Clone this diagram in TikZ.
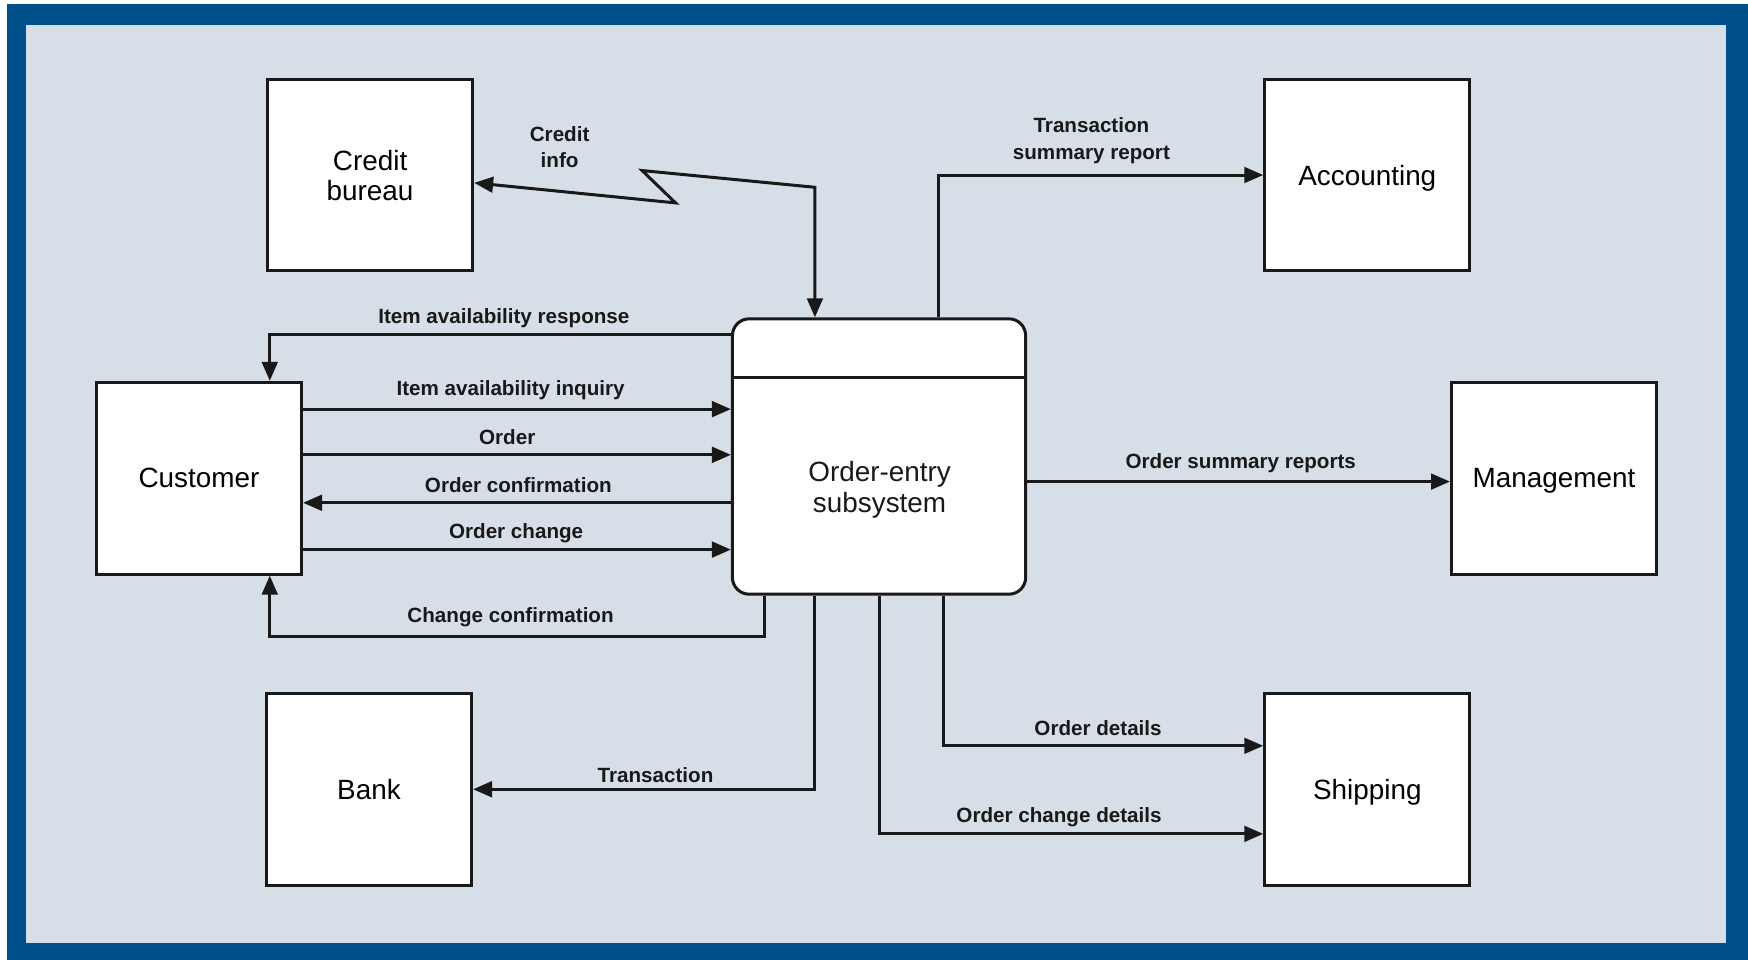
\documentclass[tikz,border=0pt]{standalone}
\usepackage{fontspec}
\setmainfont{Liberation Sans}
\usetikzlibrary{arrows.meta}
\definecolor{frameblue}{RGB}{0,80,140}
\definecolor{panel}{RGB}{214,222,232}
\definecolor{ink}{RGB}{25,25,25}

\begin{document}
\begin{tikzpicture}[x=1pt,y=-1pt,
  entity/.style={draw=ink, fill=white, line width=2.7pt, minimum width=184pt,
    minimum height=172pt, inner sep=0pt, align=center, text depth=0pt,
    font=\fontsize{25}{27}\selectfont},
  process/.style={draw=ink, fill=white, line width=2.7pt, rounded corners=15pt,
    minimum width=263pt, minimum height=247pt, inner sep=0pt},
  tip/.tip={Triangle[length=17pt,width=14pt]},
  flow/.style={draw=ink, line width=2.7pt, -tip},
  flowlabel/.style={text=ink, inner sep=0pt, align=center,
    font=\fontsize{18.5}{24}\selectfont\bfseries},
  boxlabel/.style={text=ink, inner sep=0pt, align=center,
    font=\fontsize{25}{28}\selectfont},
  ]
\useasboundingbox (0,0) rectangle (1568,861);

% frame and panel
\fill[white] (0,0) rectangle (1568,861);
\fill[frameblue] (6,4) rectangle (1568,861);
\fill[panel] (23,22) rectangle (1548,846);

% external entities
\node[entity] (cb)   at (332,157)    {Credit\\bureau};
\node[entity] (acc)  at (1226.5,157) {Accounting};
\node[entity] (cust) at (178.5,429)  {Customer};
\node[entity] (mgmt) at (1394,429)   {Management};
\node[entity] (bank) at (331,708)    {Bank};
\node[entity] (ship) at (1226.5,708) {Shipping};

% process with its header bar
\node[process] (proc) at (788.5,409.5) {};
\coordinate (divy) at (0,339);
\draw[draw=ink, line width=2.7pt] (proc.west |- divy) -- (proc.east |- divy);
\node[boxlabel] (proctext) at (789,439.5) {Order-entry\\subsystem};

% helper coordinates for connector routes
\coordinate (zA) at (606,182);
\coordinate (zB) at (576,153);
\coordinate (zC) at (731,168);
\coordinate (xts) at (842,0);
\coordinate (xcust) at (242,0);
\coordinate (yresp) at (0,300);
\coordinate (yinq) at (0,367);
\coordinate (yord) at (0,408);
\coordinate (yconf) at (0,451);
\coordinate (ychg) at (0,493);
\coordinate (cc) at (686,571);
\coordinate (xtr) at (731,0);
\coordinate (xocd) at (789,0);
\coordinate (xod) at (846,0);
\coordinate (yod) at (0,669);
\coordinate (yocd) at (0,748);
\coordinate (ysum) at (0,432);

% credit info (two-way, jagged)
\draw[flow, tip-tip] ([yshift=-7pt]cb.east) -- (zA) -- (zB) -- (zC) -- (zC |- proc.north);
% transaction summary report
\draw[flow] (xts |- proc.north) |- (acc.west);
% customer flows
\draw[flow] (proc.west |- yresp) -| (xcust |- cust.north);
\draw[flow] (cust.east |- yinq) -- (proc.west |- yinq);
\draw[flow] (cust.east |- yord) -- (proc.west |- yord);
\draw[flow] (proc.west |- yconf) -- (cust.east |- yconf);
\draw[flow] (cust.east |- ychg) -- (proc.west |- ychg);
\draw[flow] (cc |- proc.south) -- (cc) -| (xcust |- cust.south);
% bank
\draw[flow] (xtr |- proc.south) |- (bank.east);
% shipping
\draw[flow] (xod |- proc.south) |- (ship.west |- yod);
\draw[flow] (xocd |- proc.south) |- (ship.west |- yocd);
% management
\draw[flow] (proc.east |- ysum) -- (mgmt.west |- ysum);

% flow labels
\node[flowlabel] (lcredit) at (502,132) {Credit\\info};
\node[flowlabel] (ltsr) at (979,126) {Transaction\\summary report};
\node[flowlabel, anchor=base] (lresp) at (452,290.6) {Item availability response};
\node[flowlabel, anchor=base] (linq) at (458,354.6) {Item availability inquiry};
\node[flowlabel, anchor=base] (lord) at (455,398.6) {Order};
\node[flowlabel, anchor=base] (lconf) at (465,441.6) {Order confirmation};
\node[flowlabel, anchor=base] (lchg) at (463,482.6) {Order change};
\node[flowlabel, anchor=base] (lcc) at (458,558.6) {Change confirmation};
\node[flowlabel, anchor=base] (ltr) at (588,701.6) {Transaction};
\node[flowlabel, anchor=base] (lod) at (985,659.6) {Order details};
\node[flowlabel, anchor=base] (locd) at (950,737.6) {Order change details};
\node[flowlabel, anchor=base] (lsum) at (1113,420.6) {Order summary reports};
\end{tikzpicture}
\end{document}
